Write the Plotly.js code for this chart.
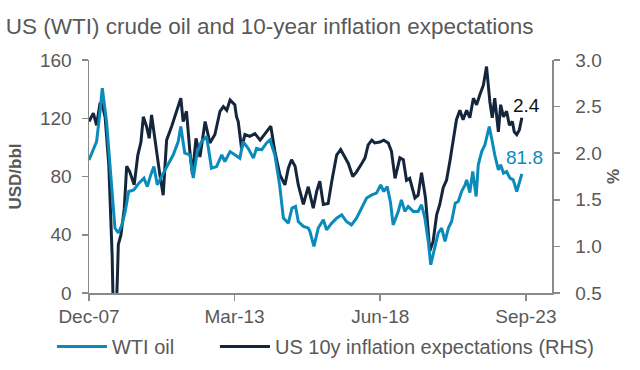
<!DOCTYPE html>
<html>
<head>
<meta charset="utf-8">
<script src="https://cdn.plot.ly/plotly-3.0.1.min.js"></script>
<style>html,body{margin:0;padding:0;background:#fff;}#chart{width:640px;height:370px;}</style>
</head>
<body>
<div id="chart"></div>
<script>
// US 10y inflation expectations (%), RHS
const inflDates = ['2007-12-01','2008-01-27','2008-03-10','2008-04-24','2008-05-24','2008-07-01','2008-08-18','2008-10-01','2008-10-18','2008-11-18','2008-12-10','2008-12-21',
'2009-01-24','2009-03-10','2009-04-10','2009-05-21','2009-07-18','2009-09-04','2009-10-15','2009-11-15','2009-12-27',
'2010-02-01','2010-03-04','2010-04-15','2010-06-01','2010-06-21','2010-08-04','2010-09-18','2010-11-24',
'2011-01-27','2011-03-24','2011-04-24','2011-06-07','2011-07-21','2011-08-24','2011-10-10','2011-12-01',
'2012-02-07','2012-04-10','2012-06-15','2012-08-21','2012-10-04','2012-11-18',
'2013-01-01','2013-02-13','2013-03-04','2013-03-27','2013-04-18','2013-06-01','2013-07-15','2013-09-18','2013-11-24',
'2014-02-01','2014-04-04','2014-06-21','2014-08-13','2014-10-18','2014-12-24',
'2015-02-07','2015-03-21','2015-05-07','2015-06-18','2015-08-24','2015-10-27',
'2016-01-01','2016-02-15','2016-03-27','2016-05-13','2016-07-15','2016-09-01','2016-11-04','2016-12-27',
'2017-02-21','2017-04-07','2017-06-04','2017-07-24','2017-10-01','2017-11-13','2017-12-24',
'2018-02-10','2018-03-21','2018-05-27','2018-07-18','2018-09-15','2018-10-27','2018-12-13',
'2019-02-15','2019-04-01','2019-05-13','2019-06-24','2019-09-01','2019-10-13','2019-11-27',
'2020-01-18','2020-03-15','2020-04-27','2020-06-13','2020-07-24','2020-09-07','2020-10-21','2020-12-04',
'2021-01-18','2021-03-01','2021-04-15','2021-05-27','2021-07-13','2021-08-24','2021-10-10','2021-11-21',
'2022-01-04','2022-02-18','2022-04-01','2022-05-15','2022-06-15','2022-07-18','2022-09-04','2022-10-04','2022-11-10','2022-12-21',
'2023-01-27','2023-03-07','2023-04-01','2023-05-04','2023-06-07','2023-07-10'];
const inflValues = [2.34,2.43,2.30,2.54,2.52,2.38,1.87,0.90,0.20,0.15,0.70,1.02,
1.12,1.41,1.86,1.80,1.66,1.98,2.12,2.39,2.29,
2.16,2.41,2.16,1.84,1.77,1.55,2.14,2.29,
2.46,2.59,2.34,2.45,2.02,1.77,2.16,1.96,
2.34,2.11,2.20,2.45,2.50,2.46,
2.57,2.54,2.52,2.39,2.34,2.05,2.20,2.18,2.21,
2.14,2.21,2.29,2.02,1.77,1.66,
1.84,1.93,1.86,1.66,1.45,1.64,
1.41,1.59,1.70,1.45,1.46,1.70,1.98,2.04,
1.96,1.89,1.75,1.80,1.89,1.95,2.09,
2.14,2.11,2.12,2.14,2.11,2.02,1.73,
1.95,1.93,1.71,1.73,1.52,1.55,1.79,
1.52,0.95,1.05,1.34,1.45,1.63,1.71,1.91,
2.12,2.36,2.46,2.36,2.46,2.38,2.59,2.52,
2.63,2.73,2.93,2.55,2.38,2.59,2.23,2.52,2.39,2.45,
2.30,2.34,2.23,2.20,2.25,2.38];

// WTI oil (USD/bbl), LHS
const wtiDates = ['2007-12-01','2008-01-27','2008-03-10','2008-04-24','2008-05-24','2008-07-19','2008-09-24','2008-11-07','2008-12-21',
'2009-02-07','2009-03-21','2009-05-07','2009-07-13','2009-09-18','2009-11-24',
'2010-01-07','2010-02-21','2010-04-04','2010-05-18','2010-07-01','2010-09-13','2010-12-15',
'2011-02-18','2011-03-24','2011-05-15','2011-07-21','2011-09-04','2011-10-27','2011-12-21',
'2012-02-27','2012-05-01','2012-07-07','2012-09-13','2012-10-24',
'2013-01-01','2013-03-04','2013-05-10','2013-06-21','2013-08-27','2013-11-04','2013-12-15',
'2014-02-21','2014-04-24','2014-06-10','2014-08-13','2014-10-15','2014-12-04',
'2015-02-07','2015-03-27','2015-05-13','2015-06-18','2015-08-24','2015-10-27','2015-11-18',
'2016-01-10','2016-03-07','2016-05-13','2016-06-24','2016-09-01','2016-11-04',
'2017-01-10','2017-03-13','2017-05-18','2017-07-24','2017-10-01','2017-12-04',
'2018-02-10','2018-04-13','2018-06-07','2018-07-18','2018-09-01','2018-10-15','2018-11-18',
'2019-01-24','2019-03-07','2019-04-21','2019-06-04','2019-08-10','2019-10-13','2019-11-27',
'2020-01-10','2020-02-24','2020-03-27','2020-05-13','2020-07-04','2020-08-18','2020-10-01','2020-11-15','2020-12-27',
'2021-02-13','2021-03-24','2021-05-10','2021-06-21','2021-07-13','2021-08-24','2021-10-01','2021-11-15','2021-12-13',
'2022-01-27','2022-03-10','2022-05-07','2022-06-15','2022-07-18','2022-09-04','2022-10-04','2022-11-10','2022-12-21',
'2023-02-04','2023-03-18','2023-05-04','2023-06-07','2023-07-10'];
const wtiValues = [91.4,99.4,104,124.6,140.6,117.7,72,44.6,41.2,
46.8,56,69.7,70.8,75.4,78.9,
73,81.1,86.8,74.3,78.9,86,94.9,
104,114.3,96,94.9,78.9,97.1,104,
107.4,85.7,86.8,94.9,90.3,
97.1,95,92.6,104,99.4,92.6,99.4,
98.3,102.9,105.1,94.9,74.3,51.4,
48,58.3,59.4,49.1,45.7,44.6,42.3,
32,44.6,50.3,43.4,48,51.4,
53.7,49.1,46.8,51.4,58.3,65.2,
67.4,68.6,74.3,69.7,73.1,62,46.8,
56,64,56,59.4,56,56,60.6,
51.4,35.4,19.4,30.9,41.2,44.6,35.4,44.6,49.1,
61.7,62.8,70,74,77.7,69,83.4,66.3,88,
97.1,101.7,114.3,104,94.9,84.6,88,82.3,83.4,
78.9,77.7,69.7,75.4,81.8];

const tickVals = ['2007-12-01','2013-03-01','2018-06-01','2023-09-01'];
const tickText = ['Dec-07','Mar-13','Jun-18','Sep-23'];
const seriesNames = ['WTI oil','US 10y inflation expectations (RHS)'];
const lastLabels = ['81.8','2.4'];

const BLUE = '#0a8bbb';
const DARK = '#14263b';
const GREY_TXT = '#595959';
const AXIS = '#8a8a8a';
const FONT = "'Liberation Sans', Arial, sans-serif";

const traces = [
  {x: inflDates, y: inflValues, type: 'scatter', mode: 'lines', name: seriesNames[1],
   line: {color: DARK, width: 3}, yaxis: 'y', legend: 'legend2'},
  {x: wtiDates, y: wtiValues, type: 'scatter', mode: 'lines', name: seriesNames[0],
   line: {color: BLUE, width: 3}, yaxis: 'y2', legend: 'legend'}
];

const legendBase = {orientation: 'h', xanchor: 'left', y: -0.23, yanchor: 'middle',
  font: {size: 20, color: GREY_TXT, family: FONT}, itemwidth: 50, bgcolor: 'rgba(0,0,0,0)'};

const tickCommon = {showgrid: false, zeroline: false, showline: true, linecolor: AXIS, linewidth: 1.5,
  ticks: 'outside', ticklen: 6, tickcolor: AXIS, tickwidth: 1.5, automargin: false,
  tickfont: {size: 19, color: GREY_TXT, family: FONT}};

const layout = {
  width: 640, height: 370,
  paper_bgcolor: '#fff', plot_bgcolor: '#fff',
  font: {family: FONT, color: GREY_TXT, size: 19},
  margin: {l: 89, r: 88, t: 60, b: 77, pad: 0, autoexpand: false},
  title: {text: 'US (WTI) crude oil and 10-year inflation expectations', xref: 'container', yref: 'container',
          x: 0.009, xanchor: 'left', y: 0.93, yanchor: 'middle', font: {size: 22.5, color: GREY_TXT, family: FONT}},
  showlegend: true,
  legend: Object.assign({}, legendBase, {x: -0.08}),
  legend2: Object.assign({}, legendBase, {x: 0.272}),
  xaxis: Object.assign({}, tickCommon, {type: 'date', range: ['2007-12-01', '2024-08-10'],
          tickvals: tickVals, ticktext: tickText, ticklabelstandoff: 0}),
  yaxis: Object.assign({}, tickCommon, {side: 'right', range: [0.5, 3.0], dtick: 0.5, tick0: 0.5, tickformat: '.1f',
          ticklabelstandoff: 12,
          title: {text: '%', standoff: 6, font: {size: 17, color: GREY_TXT, weight: 'bold', family: FONT}}}),
  yaxis2: Object.assign({}, tickCommon, {overlaying: 'y', side: 'left', range: [0, 160], dtick: 40,
          ticklabelstandoff: 6,
          title: {text: 'USD/bbl', standoff: 14, font: {size: 17, color: GREY_TXT, weight: 'bold', family: FONT}}}),
  annotations: [
    {x: '2023-09-13', y: 2.51, xref: 'x', yref: 'y', text: lastLabels[1], showarrow: false,
     font: {size: 19, color: '#111', family: FONT}, xanchor: 'center', yanchor: 'middle'},
    {x: '2023-08-19', y: 92.8, xref: 'x', yref: 'y2', text: lastLabels[0], showarrow: false,
     font: {size: 19, color: BLUE, family: FONT}, xanchor: 'center', yanchor: 'middle'}
  ]
};

Plotly.newPlot('chart', traces, layout, {displayModeBar: false, staticPlot: true});
</script>
</body>
</html>
